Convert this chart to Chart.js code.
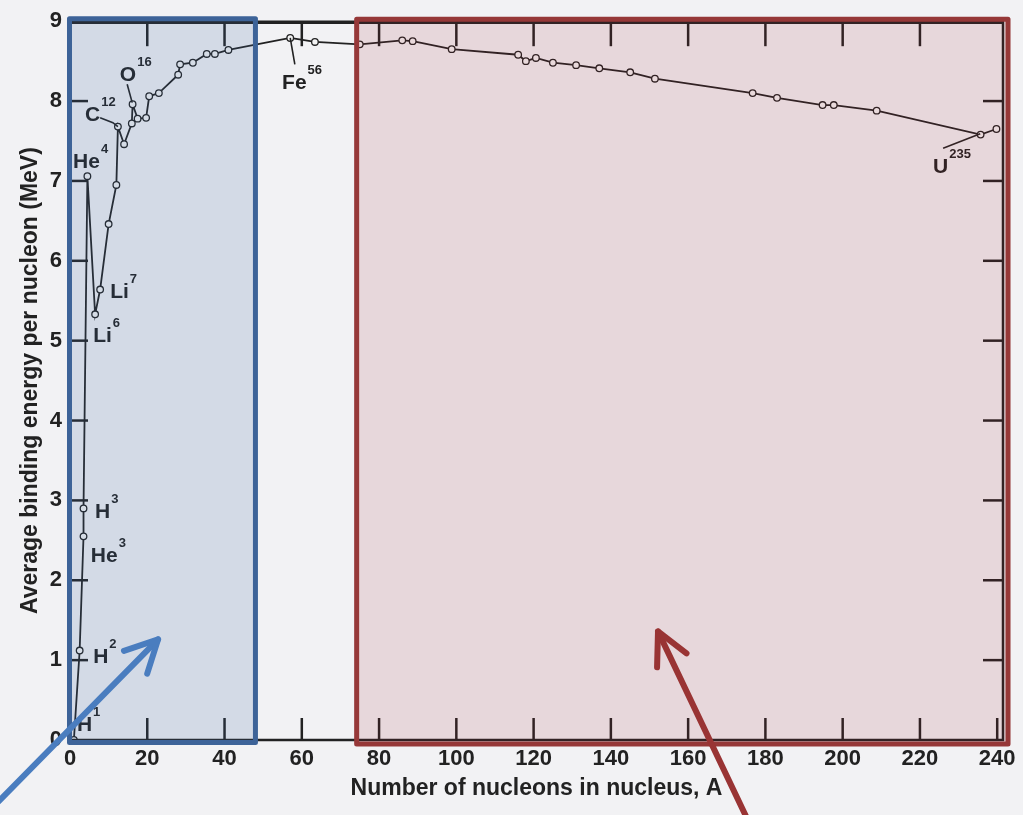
<!DOCTYPE html>
<html><head><meta charset="utf-8">
<script src="https://cdn.jsdelivr.net/npm/chart.js@4/dist/chart.umd.min.js"></script>
<style>html,body{margin:0;padding:0;background:#f2f2f4;overflow:hidden}canvas{display:block}</style>
</head><body>
<canvas id="c" width="1023" height="815"></canvas>
<script>
// ---- data (mass number A, average binding energy per nucleon in MeV), in curve order ----
const massNumber = [1, 2.5, 3.5, 3.5, 4.5, 6.5, 7.8, 10, 12, 12.4, 14, 16, 16.2, 17.5, 19.7, 20.5, 23, 28, 28.5, 31.8, 35.4, 37.5, 41, 57, 63.4, 75, 86, 88.7, 98.8, 116, 118, 120.6, 125, 131, 137, 145, 151.4, 176.7, 183, 194.8, 197.7, 208.8, 235.7, 239.8];
const bindingEnergy = [0, 1.12, 2.55, 2.9, 7.06, 5.33, 5.64, 6.46, 6.95, 7.68, 7.46, 7.72, 7.96, 7.78, 7.79, 8.06, 8.1, 8.33, 8.46, 8.48, 8.59, 8.59, 8.64, 8.79, 8.74, 8.71, 8.76, 8.75, 8.65, 8.58, 8.5, 8.54, 8.48, 8.45, 8.41, 8.36, 8.28, 8.1, 8.04, 7.95, 7.95, 7.88, 7.58, 7.65];
const xTicks = [0, 20, 40, 60, 80, 100, 120, 140, 160, 180, 200, 220, 240];
const yTicks = [0, 1, 2, 3, 4, 5, 6, 7, 8, 9];
// nuclide labels
const labelText = ['H', 'H', 'H', 'He', 'He', 'Li', 'Li', 'C', 'O', 'Fe', 'U'];
const labelSup  = ['1', '2', '3', '3', '4', '7', '6', '12', '16', '56', '235'];
const labelA    = [1.8, 6.0, 6.5, 5.4, 0.8, 10.4, 6.0, 3.9, 12.9, 54.9, 223.4];
const labelB    = [0.11, 0.96, 2.78, 2.23, 7.16, 5.53, 4.98, 7.75, 8.25, 8.15, 7.1];
// leader lines (A,B pairs)
const leaders = [
  [[7.8, 7.79], [11.1, 7.73], [12.4, 7.68]],
  [[14.8, 8.21], [16.1, 7.98]],
  [[57, 8.79], [58.2, 8.46]],
  [[226, 7.41], [235.6, 7.59]]
];
// highlight boxes [A0, A1, B0, B1]
const blueBox = [-0.13, 48.0, -0.03, 9.03];
const redBox  = [74.2, 242.8, -0.05, 9.025];
// arrows [tailA, tailB, tipA, tipB]
const blueArrow = [-19.5, -0.82, 22.8, 1.26];
const redArrow  = [176.2, -1.08, 152.2, 1.36];

const FONT = '"Liberation Sans", Arial, Helvetica, sans-serif';
const INK = '#222';

const decor = {
  id: 'decor',
  beforeDraw(chart) {
    const ctx = chart.ctx;
    ctx.save();
    ctx.fillStyle = '#f2f2f4';
    ctx.fillRect(0, 0, chart.width, chart.height);
    ctx.restore();
  },
  afterDatasetsDraw(chart) {
    const ctx = chart.ctx, x = chart.scales.x, y = chart.scales.y;
    const {left, right, top, bottom} = chart.chartArea;
    ctx.save();
    ctx.strokeStyle = INK;
    ctx.lineCap = 'butt';
    // frame
    ctx.lineWidth = 2.5;
    ctx.beginPath();
    ctx.moveTo(left, top); ctx.lineTo(left, bottom); ctx.lineTo(right, bottom); ctx.lineTo(right, top);
    ctx.stroke();
    ctx.lineWidth = 3.5;
    ctx.beginPath(); ctx.moveTo(left - 1, top + 1); ctx.lineTo(right + 1, top + 1); ctx.stroke();
    // inward ticks
    ctx.lineWidth = 2.5;
    xTicks.forEach(v => {
      if (v === 0) return;
      const px = x.getPixelForValue(v);
      ctx.beginPath(); ctx.moveTo(px, bottom); ctx.lineTo(px, bottom - 22); ctx.stroke();
      if (v < 240) { ctx.beginPath(); ctx.moveTo(px, top); ctx.lineTo(px, top + 25); ctx.stroke(); }
    });
    yTicks.forEach(v => {
      if (v === 0 || v === 9) return;
      const py = y.getPixelForValue(v);
      ctx.beginPath(); ctx.moveTo(left, py); ctx.lineTo(left + 18, py); ctx.stroke();
      ctx.beginPath(); ctx.moveTo(right, py); ctx.lineTo(right - 20, py); ctx.stroke();
    });
    // leader lines
    ctx.lineWidth = 1.6;
    leaders.forEach(pts => {
      ctx.beginPath();
      pts.forEach((p, i) => {
        const px = x.getPixelForValue(p[0]), py = y.getPixelForValue(p[1]);
        if (i === 0) ctx.moveTo(px, py); else ctx.lineTo(px, py);
      });
      ctx.stroke();
    });
    // nuclide labels
    ctx.fillStyle = INK;
    ctx.textBaseline = 'alphabetic';
    ctx.textAlign = 'left';
    labelText.forEach((t, i) => {
      const px = x.getPixelForValue(labelA[i]), py = y.getPixelForValue(labelB[i]);
      ctx.font = 'bold 21px ' + FONT;
      ctx.fillText(t, px, py);
      const w = ctx.measureText(t).width;
      ctx.font = 'bold 13px ' + FONT;
      ctx.fillText(labelSup[i], px + w + 1, py - 15);
    });
    ctx.restore();
  },
  afterDraw(chart) {
    const ctx = chart.ctx, x = chart.scales.x, y = chart.scales.y;
    ctx.save();
    const box = (b, fill, stroke) => {
      const x0 = x.getPixelForValue(b[0]), x1 = x.getPixelForValue(b[1]);
      const y0 = y.getPixelForValue(b[3]), y1 = y.getPixelForValue(b[2]);
      ctx.fillStyle = fill;
      ctx.fillRect(x0, y0, x1 - x0, y1 - y0);
      ctx.strokeStyle = stroke; ctx.lineWidth = 5; ctx.lineJoin = 'round';
      ctx.strokeRect(x0, y0, x1 - x0, y1 - y0);
    };
    box(blueBox, 'rgba(60,100,160,0.17)', '#3d6398');
    box(redBox, 'rgba(160,40,52,0.13)', '#963838');
    const arrow = (a, color) => {
      const tx = x.getPixelForValue(a[0]), ty = y.getPixelForValue(a[1]);
      const hx = x.getPixelForValue(a[2]), hy = y.getPixelForValue(a[3]);
      const ang = Math.atan2(ty - hy, tx - hx);
      const L = 36, sp = 0.47;
      ctx.strokeStyle = color; ctx.lineWidth = 6; ctx.lineCap = 'round'; ctx.lineJoin = 'round';
      ctx.beginPath(); ctx.moveTo(tx, ty); ctx.lineTo(hx, hy); ctx.stroke();
      ctx.beginPath();
      ctx.moveTo(hx + L * Math.cos(ang + sp), hy + L * Math.sin(ang + sp));
      ctx.lineTo(hx, hy);
      ctx.lineTo(hx + L * Math.cos(ang - sp), hy + L * Math.sin(ang - sp));
      ctx.stroke();
    };
    arrow(blueArrow, '#4a7dbf');
    arrow(redArrow, '#993434');
    ctx.restore();
  }
};

new Chart(document.getElementById('c'), {
  type: 'line',
  data: {
    datasets: [{
      data: massNumber.map((a, i) => ({x: a, y: bindingEnergy[i]})),
      borderColor: INK,
      borderWidth: 1.8,
      pointRadius: 3.3,
      pointBorderWidth: 1.3,
      pointBorderColor: INK,
      pointBackgroundColor: '#f4f4f4',
      tension: 0,
      fill: false
    }]
  },
  options: {
    responsive: false,
    animation: false,
    devicePixelRatio: 1,
    layout: {padding: {top: 20, right: 20, left: 0, bottom: 0}},
    plugins: {legend: {display: false}, tooltip: {enabled: false}},
    scales: {
      x: {
        type: 'linear', min: 0, max: 241.5,
        afterBuildTicks: s => { s.ticks = xTicks.map(v => ({value: v})); },
        afterFit: s => { s.height = 75; },
        grid: {display: false, drawTicks: false},
        border: {display: false},
        ticks: {font: {family: FONT, size: 22, weight: 'bold'}, color: INK, padding: 6, maxRotation: 0, autoSkip: false},
        title: {display: true, text: 'Number of nucleons in nucleus, A', font: {family: FONT, size: 23, weight: 'bold'}, color: INK, padding: {top: 0, bottom: 13}}
      },
      y: {
        type: 'linear', min: 0, max: 9,
        afterBuildTicks: s => { s.ticks = yTicks.map(v => ({value: v})); },
        afterFit: s => { s.width = 70; },
        grid: {display: false, drawTicks: false},
        border: {display: false},
        ticks: {font: {family: FONT, size: 22, weight: 'bold'}, color: INK, padding: 8, autoSkip: false},
        title: {display: true, text: 'Average binding energy per nucleon (MeV)', font: {family: FONT, size: 23, weight: 'bold'}, color: INK, padding: {top: 17, bottom: 0}}
      }
    }
  },
  plugins: [decor]
});
</script>
</body></html>
